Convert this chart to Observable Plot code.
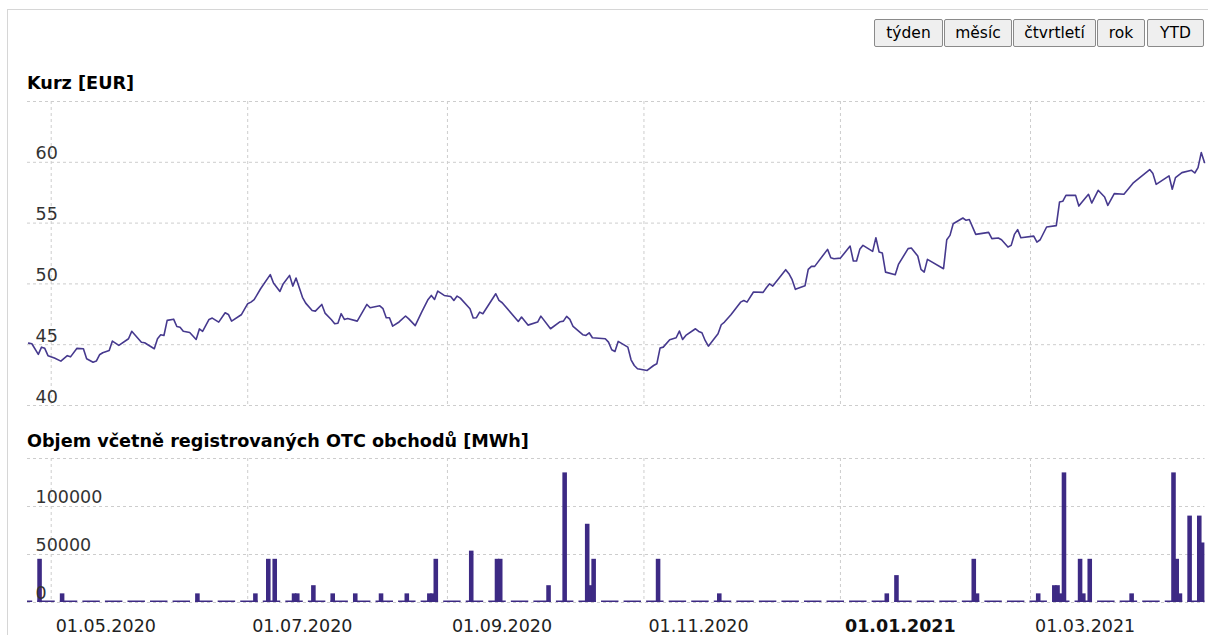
<!DOCTYPE html>
<html>
<head>
<meta charset="utf-8">
<script src="https://cdn.jsdelivr.net/npm/d3@7"></script>
<script src="https://cdn.jsdelivr.net/npm/@observablehq/plot@0.6"></script>
<style>
  html, body { margin: 0; padding: 0; background: #fff; width: 1208px; height: 635px; overflow: hidden; }
  body { position: relative; font-family: "DejaVu Sans", Verdana, sans-serif; }
  #frame { position: absolute; left: 7px; top: 9px; width: 1400px; height: 800px;
           border-left: 1px solid #d6d6d6; border-top: 1px solid #d6d6d6; }
  #buttons { position: absolute; left: 874px; top: 19px; height: 28px; }
  #buttons button { position: absolute; top: 0; height: 28px; padding: 0; margin: 0;
     font-family: "DejaVu Sans", Verdana, sans-serif; font-size: 15.5px; color: #000;
     background: #efefef; border: 1px solid #8a8a8a; border-radius: 2px; }
  .title { position: absolute; left: 27px; font-weight: bold; font-size: 17.65px; line-height: 17.65px; color: #000; white-space: nowrap; }
  #chart1 { position: absolute; left: 0; top: 95px; }
  #chart2 { position: absolute; left: 0; top: 452px; }
</style>
</head>
<body>
<div id="frame"></div>
<div id="buttons"></div>
<div class="title" id="t1" style="top:75px">Kurz [EUR]</div>
<div class="title" id="t2" style="top:432.5px">Objem včetně registrovaných OTC obchodů [MWh]</div>
<div id="chart1"></div>
<div id="chart2"></div>
<script>
// ---- data ----
const buttonLabels = ["týden", "měsíc", "čtvrtletí", "rok", "YTD"];
const buttonLefts = [0, 70, 139, 223, 273];
const buttonWidths = [69, 68, 83, 48, 57];

const priceDates = [
"2020-04-24","2020-04-25","2020-04-27","2020-04-28","2020-04-29","2020-04-30","2020-05-02","2020-05-04","2020-05-06","2020-05-07",
"2020-05-09","2020-05-11","2020-05-12","2020-05-14","2020-05-15","2020-05-16","2020-05-17","2020-05-19","2020-05-20","2020-05-22",
"2020-05-25","2020-05-26","2020-05-29","2020-05-30","2020-06-02","2020-06-03","2020-06-04","2020-06-05","2020-06-06","2020-06-08",
"2020-06-09","2020-06-10","2020-06-11","2020-06-13","2020-06-15","2020-06-16","2020-06-17","2020-06-19","2020-06-20","2020-06-22",
"2020-06-24","2020-06-25","2020-06-26","2020-06-29","2020-07-01","2020-07-02","2020-07-03","2020-07-05","2020-07-08","2020-07-09",
"2020-07-11","2020-07-12","2020-07-14","2020-07-15","2020-07-16","2020-07-18","2020-07-19","2020-07-21","2020-07-22","2020-07-24",
"2020-07-25","2020-07-27","2020-07-28","2020-07-29","2020-07-30","2020-07-31","2020-08-01","2020-08-04","2020-08-07","2020-08-08",
"2020-08-11","2020-08-12","2020-08-13","2020-08-14","2020-08-15","2020-08-17","2020-08-19","2020-08-20","2020-08-22","2020-08-24",
"2020-08-26","2020-08-27","2020-08-28","2020-08-29","2020-08-31","2020-09-02","2020-09-03","2020-09-04","2020-09-05","2020-09-08",
"2020-09-09","2020-09-10","2020-09-11","2020-09-12","2020-09-16","2020-09-17","2020-09-18","2020-09-23","2020-09-24","2020-09-26",
"2020-09-29","2020-09-30","2020-10-03","2020-10-06","2020-10-07","2020-10-08","2020-10-09","2020-10-10","2020-10-13","2020-10-14",
"2020-10-15","2020-10-16","2020-10-20","2020-10-21","2020-10-22","2020-10-23","2020-10-24","2020-10-27","2020-10-28","2020-10-29",
"2020-10-30","2020-11-02","2020-11-04","2020-11-05","2020-11-06","2020-11-07","2020-11-09","2020-11-11","2020-11-12","2020-11-13",
"2020-11-14","2020-11-17","2020-11-18","2020-11-19","2020-11-20","2020-11-21","2020-11-24","2020-11-25","2020-11-26","2020-11-28",
"2020-12-01","2020-12-02","2020-12-03","2020-12-05","2020-12-08","2020-12-09","2020-12-10","2020-12-11","2020-12-15","2020-12-16",
"2020-12-17","2020-12-18","2020-12-21","2020-12-22","2020-12-23","2020-12-24","2020-12-28","2020-12-29","2020-12-30","2021-01-01",
"2021-01-04","2021-01-05","2021-01-06","2021-01-07","2021-01-08","2021-01-11","2021-01-12","2021-01-13","2021-01-14","2021-01-15",
"2021-01-18","2021-01-19","2021-01-22","2021-01-23","2021-01-25","2021-01-26","2021-01-27","2021-01-28","2021-02-02","2021-02-03",
"2021-02-04","2021-02-05","2021-02-08","2021-02-09","2021-02-10","2021-02-12","2021-02-16","2021-02-17","2021-02-19","2021-02-20",
"2021-02-22","2021-02-23","2021-02-24","2021-02-25","2021-02-26","2021-03-02","2021-03-03","2021-03-04","2021-03-06","2021-03-09",
"2021-03-10","2021-03-11","2021-03-12","2021-03-15","2021-03-16","2021-03-17","2021-03-19","2021-03-20","2021-03-22","2021-03-24",
"2021-03-25","2021-03-27","2021-03-30","2021-04-02","2021-04-07","2021-04-08","2021-04-09","2021-04-13","2021-04-14","2021-04-15",
"2021-04-17","2021-04-20","2021-04-21","2021-04-22","2021-04-23","2021-04-24"
];
const priceValues = [
45.13,45.08,44.2,44.8,44.7,44.1,43.9,43.65,44.1,44.0,
44.7,44.67,43.85,43.56,43.65,44.17,44.34,44.53,45.3,44.94,
45.49,46.1,45.2,45.16,44.67,45.49,45.82,45.76,47.0,47.1,
46.5,46.44,46.1,46.0,45.43,46.3,46.1,47.08,47.19,46.86,
47.63,47.49,46.94,47.46,48.37,48.5,48.7,49.6,50.76,50.07,
49.38,50.0,50.7,49.82,50.48,48.9,48.42,47.82,47.76,48.31,
47.6,47.05,46.72,46.77,47.55,47.08,47.16,46.94,48.31,48.04,
48.2,47.96,47.22,47.22,46.53,46.87,47.36,47.12,46.57,47.68,
48.72,49.05,48.72,49.41,49.05,48.97,48.64,49.0,48.83,47.96,
47.19,47.22,47.68,47.55,49.19,48.64,48.45,46.91,47.27,46.61,
46.86,47.35,46.31,46.89,46.94,47.33,47.08,46.5,45.82,45.76,
45.98,45.57,45.49,45.21,44.58,44.44,45.27,44.8,43.76,43.29,
43.02,42.88,43.29,43.43,44.72,44.8,45.41,45.57,46.12,45.43,
45.76,46.31,46.09,45.98,45.35,44.88,45.9,46.64,46.86,47.46,
48.5,48.64,48.5,49.33,49.3,49.68,50.01,49.82,51.17,50.84,
50.35,49.55,49.85,51.19,51.44,51.44,52.84,52.15,52.07,52.12,
53.11,51.88,51.88,52.84,53.17,52.67,53.8,52.62,52.54,50.97,
50.76,51.6,52.9,52.95,52.29,51.19,50.97,52.02,51.25,53.63,
53.99,54.95,55.42,55.23,55.3,54.07,54.24,53.72,53.77,53.63,
53.03,53.17,54.07,54.46,53.8,53.93,53.44,53.63,54.68,54.79,
56.73,56.79,57.28,57.28,56.4,56.73,57.37,56.65,57.7,57.15,
56.46,57.42,57.37,58.33,59.4,59.07,58.19,58.88,57.78,58.74,
59.15,59.34,59.12,59.56,60.8,59.98
];

const volumeDates = [
"2020-04-27","2020-05-04","2020-06-15","2020-07-03","2020-07-07","2020-07-09","2020-07-15","2020-07-16","2020-07-21","2020-07-27",
"2020-08-03","2020-08-11","2020-08-19","2020-08-26","2020-08-27","2020-08-28","2020-09-08","2020-09-16","2020-09-17","2020-10-02",
"2020-10-07","2020-10-14","2020-10-15","2020-10-16","2020-11-05","2020-11-24","2021-01-15","2021-01-18","2021-02-11","2021-02-12",
"2021-03-03","2021-03-08","2021-03-09","2021-03-10","2021-03-11","2021-03-16","2021-03-17","2021-03-19","2021-04-01","2021-04-14",
"2021-04-15","2021-04-16","2021-04-19","2021-04-22","2021-04-23"
];
const volumeValues = [
45000,9000,9000,9000,45000,45000,9000,9000,17500,9000,
9000,9000,9000,9000,9000,45000,53500,45000,45000,17500,
135000,81500,17500,45000,45000,9000,9000,28000,45000,9000,
9000,17500,17500,9000,135000,45000,9000,45000,9000,135000,
45000,9000,90000,90000,62000
];

const monthTicks = ["2020-05-01","2020-07-01","2020-09-01","2020-11-01","2021-01-01","2021-03-01"];
const priceGrid = [40, 45, 50, 55, 60, 65];
const priceTickLabels = [40, 45, 50, 55, 60];
const volumeGrid = [0, 50000, 100000, 150000];
const volumeTickLabels = [0, 50000, 100000];
const xDomain = ["2020-04-23T15:26:00Z", "2021-04-24T03:56:00Z"];

// ---- build ----
const parse = s => new Date(s.length > 10 ? s : s + "T00:00:00Z");
const price = priceDates.map((d, i) => ({date: parse(d), value: priceValues[i]}));
const volume = volumeDates.map((d, i) => ({date: parse(d), value: volumeValues[i]}));
const months = monthTicks.map(parse);
const domain = xDomain.map(parse);
const weeks = d3.utcMonday.range(d3.utcMonday.floor(domain[0]), domain[1]);
const fmt = d3.utcFormat("%d.%m.%Y");

const btns = document.getElementById("buttons");
buttonLabels.forEach((t, i) => {
  const b = document.createElement("button");
  b.textContent = t;
  b.style.left = buttonLefts[i] + "px";
  b.style.width = buttonWidths[i] + "px";
  btns.appendChild(b);
});

const lineColor = "#46398e";
const barColor = "#3d2a84";
const gridStyle = {stroke: "#cdcdcd", strokeDasharray: "3,3", strokeWidth: 1};
const font = {fontFamily: "DejaVu Sans, Verdana, sans-serif", background: "transparent", overflow: "visible"};

const chart1 = Plot.plot({
  width: 1208, height: 320,
  marginLeft: 27, marginRight: 3.5, marginTop: 6, marginBottom: 10,
  style: font,
  x: {type: "utc", domain, axis: null},
  y: {domain: [40, 65], axis: null},
  marks: [
    Plot.ruleY(priceGrid, gridStyle),
    Plot.ruleX(months, gridStyle),
    Plot.line(price, {x: "date", y: "value", stroke: lineColor, strokeWidth: 1.6, curve: "linear"}),
    Plot.text(priceTickLabels, {y: d => d, text: d => String(d), frameAnchor: "left", dx: 8, dy: -3,
      textAnchor: "start", lineAnchor: "bottom", fontSize: 17.5, fill: "#333"})
  ]
});
document.getElementById("chart1").appendChild(chart1);

const chart2 = Plot.plot({
  width: 1208, height: 183,
  marginLeft: 27, marginRight: 3.5, marginTop: 6, marginBottom: 33,
  style: font,
  x: {type: "utc", domain, axis: null},
  y: {domain: [0, 150000], axis: null},
  marks: [
    Plot.ruleY(volumeGrid, gridStyle),
    Plot.ruleX(months, gridStyle),
    Plot.ruleY(weeks, {
      x1: d => d3.utcHour.offset(d, -4),
      x2: d => d3.utcHour.offset(d, 4 * 24 + 30),
      y: () => 0, dy: -1, stroke: barColor, strokeWidth: 2, clip: true
    }),
    Plot.rectY(volume, {
      x1: d => d3.utcHour.offset(d.date, -4),
      x2: d => d3.utcHour.offset(d.date, 30),
      y: "value", fill: barColor, clip: true
    }),
    Plot.text(volumeTickLabels, {y: d => d, text: d => String(d), frameAnchor: "left", dx: 8, dy: -4,
      textAnchor: "start", lineAnchor: "bottom", fontSize: 17.5, fill: "#333"}),
    Plot.text(months.filter(d => d.getUTCMonth() !== 0), {x: d => d, text: d => fmt(d), frameAnchor: "bottom",
      dx: 4.5, dy: 29, textAnchor: "start", lineAnchor: "bottom", fontSize: 17.5, fill: "#222"}),
    Plot.text(months.filter(d => d.getUTCMonth() === 0), {x: d => d, text: d => fmt(d), frameAnchor: "bottom",
      dx: 4.5, dy: 29, textAnchor: "start", lineAnchor: "bottom", fontSize: 17.5, fontWeight: "bold", fill: "#111"})
  ]
});
document.getElementById("chart2").appendChild(chart2);
</script>
</body>
</html>
